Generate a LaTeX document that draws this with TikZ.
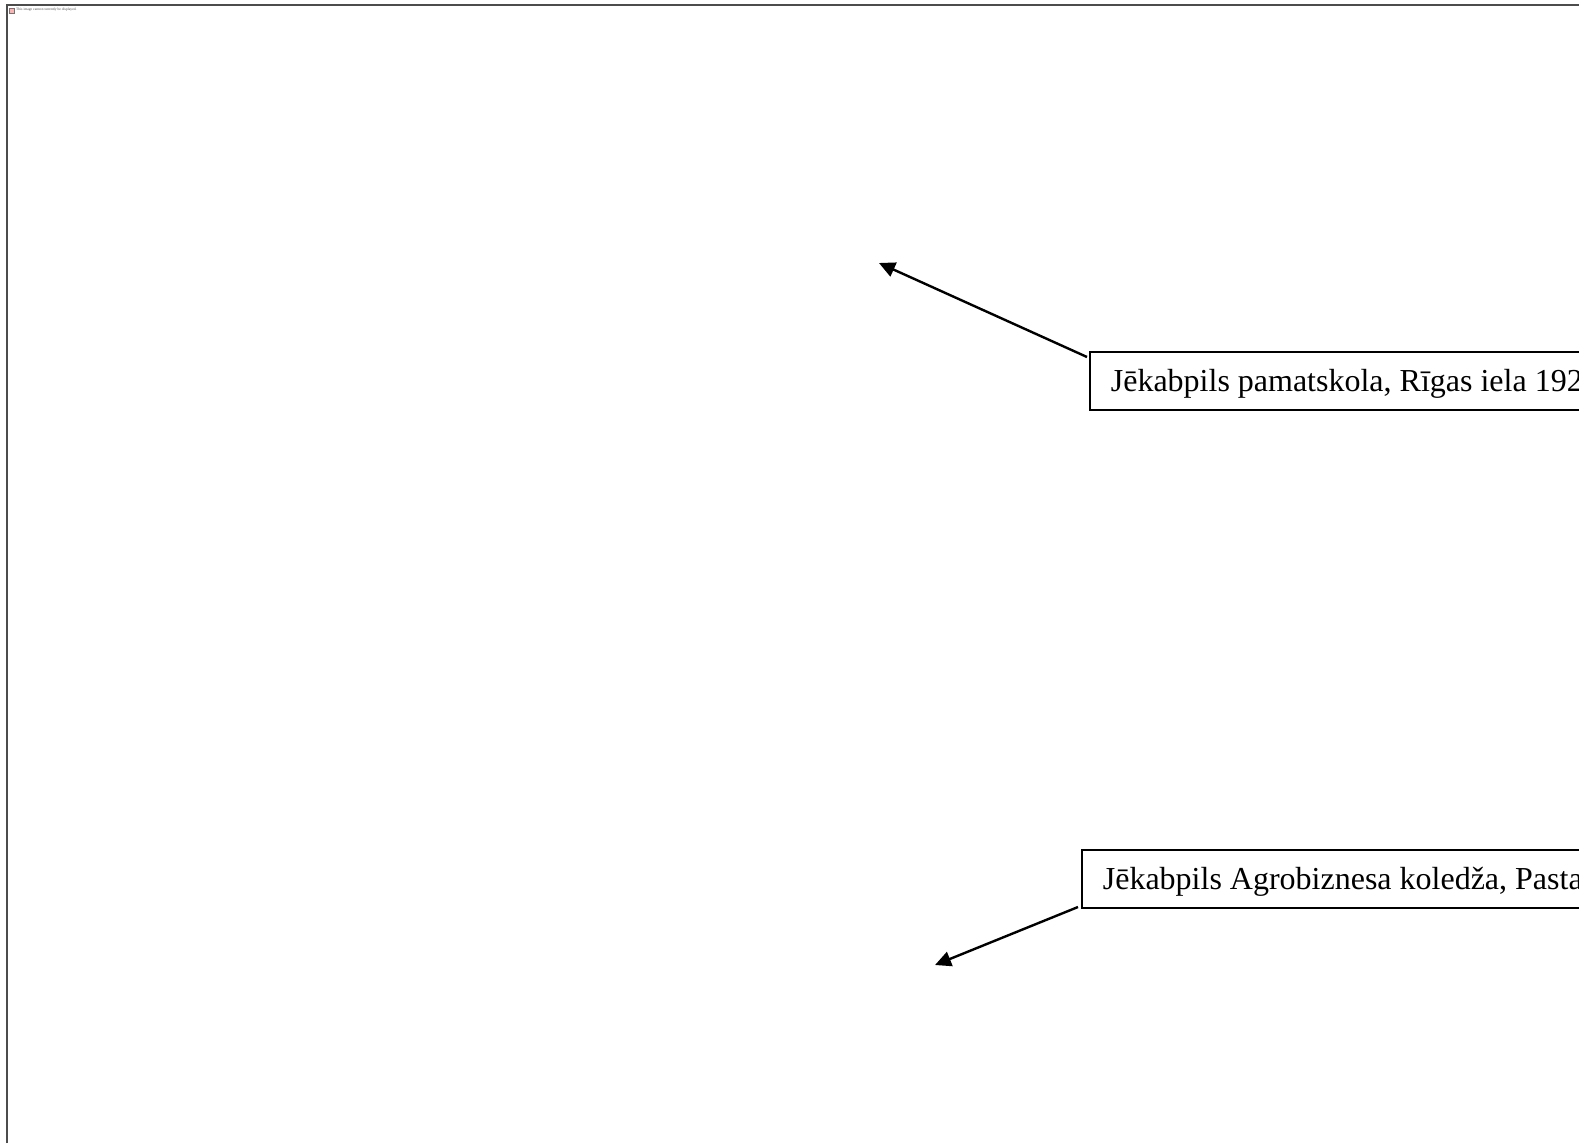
\documentclass[tikz,border=0pt]{standalone}
\usepackage{fontspec}
\setmainfont{Liberation Serif}
\usetikzlibrary{arrows.meta}
\tikzset{
  x=1pt,y=-1pt,
  callout/.style={draw=black,line width=1.7pt,fill=white,anchor=north west,minimum width=640pt,inner sep=0pt,text width=640pt,text height=40pt,text depth=18pt,align=flush left,font=\fontsize{32}{38}\selectfont\frenchspacing},
  leader/.style={draw=black,line width=2.4pt,-{Triangle[length=16pt,width=15pt]}},
  frameline/.style={draw=black!70,line width=1.6pt},
  tiny/.style={inner sep=0pt,anchor=west,text=black!70,font=\fontsize{3.6}{4}\selectfont}
}
\begin{document}
\begin{tikzpicture}
\useasboundingbox (0,0) rectangle (1579,1143);
\clip (0,0) rectangle (1579,1143);
\fill[white] (0,0) rectangle (1579,1143);
\coordinate (fa) at (7,1143);
\coordinate (fb) at (7,5);
\coordinate (fc) at (1579,5);
\draw[frameline] (fa) -- (fb) -- (fc);
\node[draw=black!55,line width=0.4pt,minimum size=5pt,inner sep=0pt,anchor=north west,fill=red!30] (icon) at (9,8) {};
\node[tiny] (msg) at (16,9.6) {This image cannot currently be displayed.};
\node[callout] (box1) at (1089,351) {\hspace*{21pt}Jēkabpils pamatskola, Rīgas iela 192};
\node[callout] (box2) at (1081,849) {\hspace*{21pt}Jēkabpils Agrobiznesa koledža, Pasta};
\coordinate (tip1) at (879,263);
\coordinate (tip2) at (935,965);
\draw[leader] ([shift={(-2,6)}]box1.north west) -- (tip1);
\draw[leader] ([shift={(-3,58)}]box2.north west) -- (tip2);
\end{tikzpicture}
\end{document}
